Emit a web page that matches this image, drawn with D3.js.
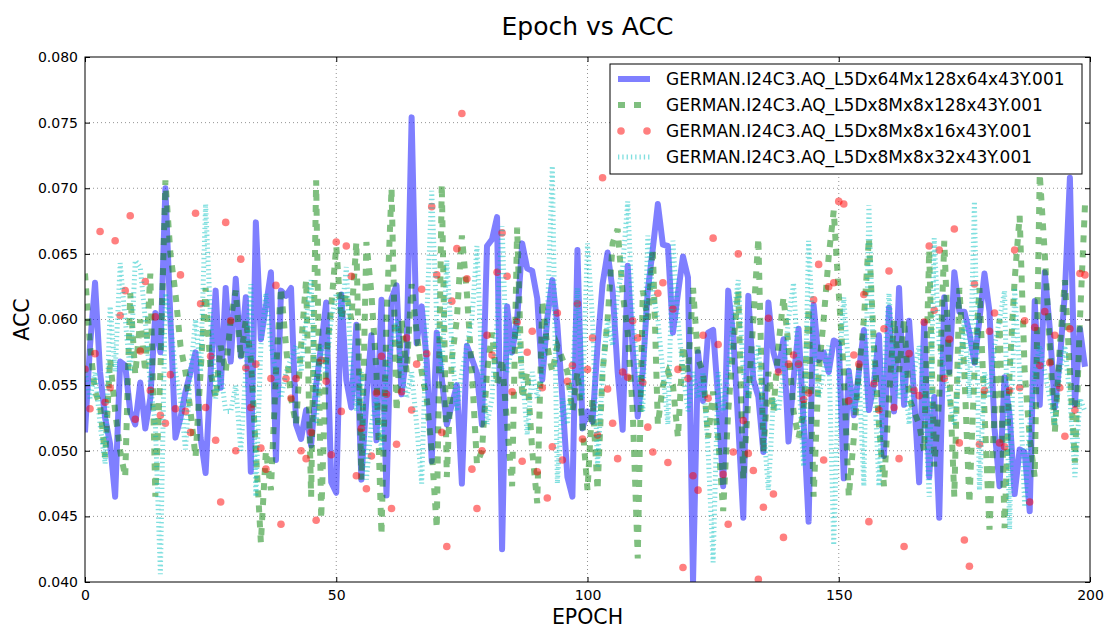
<!DOCTYPE html>
<html><head><meta charset="utf-8">
<script src="https://cdn.jsdelivr.net/npm/d3@7"></script>
<style>body{margin:0;background:#fff}svg{font-family:"DejaVu Sans",sans-serif}</style>
</head><body><svg id="c" width="1104" height="628"></svg>
<script>
const epochs = d3.range(200);
const seriesNames = [
  "GERMAN.I24C3.AQ_L5Dx64Mx128x64x43Y.001",
  "GERMAN.I24C3.AQ_L5Dx8Mx8x128x43Y.001",
  "GERMAN.I24C3.AQ_L5Dx8Mx8x16x43Y.001",
  "GERMAN.I24C3.AQ_L5Dx8Mx8x32x43Y.001"
];
const blueAcc = [
0.0514,0.0580,0.0628,0.0560,0.0525,0.0505,0.0465,0.0568,0.0565,0.0530,
0.0520,0.0552,0.0517,0.0540,0.0605,0.0575,0.0700,0.0600,0.0510,0.0525,
0.0545,0.0560,0.0575,0.0510,0.0483,0.0560,0.0622,0.0548,0.0624,0.0568,
0.0631,0.0572,0.0617,0.0484,0.0674,0.0585,0.0610,0.0636,0.0493,0.0622,
0.0618,0.0624,0.0520,0.0509,0.0531,0.0504,0.0550,0.0580,0.0613,0.0476,
0.0468,0.0619,0.0554,0.0533,0.0596,0.0478,0.0540,0.0588,0.0508,0.0615,
0.0466,0.0616,0.0626,0.0543,0.0575,0.0754,0.0582,0.0610,0.0569,0.0492,
0.0590,0.0555,0.0520,0.0535,0.0550,0.0475,0.0580,0.0570,0.0559,0.0520,
0.0656,0.0661,0.0678,0.0425,0.0610,0.0575,0.0600,0.0658,0.0639,0.0637,
0.0616,0.0554,0.0601,0.0630,0.0596,0.0540,0.0480,0.0465,0.0653,0.0517,
0.0530,0.0522,0.0580,0.0627,0.0651,0.0622,0.0560,0.0516,0.0641,0.0577,
0.0526,0.0561,0.0622,0.0654,0.0688,0.0657,0.0656,0.0590,0.0620,0.0648,
0.0632,0.0400,0.0575,0.0538,0.0590,0.0592,0.0540,0.0473,0.0622,0.0588,
0.0520,0.0449,0.0618,0.0554,0.0541,0.0499,0.0613,0.0575,0.0561,0.0585,
0.0507,0.0554,0.0593,0.0522,0.0446,0.0611,0.0569,0.0575,0.0560,0.0584,
0.0582,0.0479,0.0561,0.0527,0.0560,0.0592,0.0531,0.0551,0.0588,0.0496,
0.0609,0.0530,0.0624,0.0535,0.0599,0.0541,0.0476,0.0598,0.0480,0.0541,
0.0449,0.0617,0.0560,0.0636,0.0606,0.0606,0.0590,0.0567,0.0600,0.0635,
0.0606,0.0517,0.0473,0.0556,0.0527,0.0467,0.0501,0.0499,0.0454,0.0614,
0.0535,0.0636,0.0593,0.0533,0.0569,0.0620,0.0708,0.0535,0.0593,0.0564
];
const greenAcc = [
0.0635,0.0580,0.0545,0.0535,0.0495,0.0570,0.0530,0.0500,0.0480,0.0620,
0.0558,0.0600,0.0560,0.0635,0.0465,0.0560,0.0706,0.0650,0.0620,0.0580,
0.0560,0.0530,0.0495,0.0560,0.0624,0.0560,0.0540,0.0580,0.0560,0.0600,
0.0622,0.0570,0.0600,0.0570,0.0500,0.0430,0.0500,0.0470,0.0560,0.0624,
0.0580,0.0540,0.0520,0.0580,0.0630,0.0465,0.0706,0.0448,0.0570,0.0610,
0.0656,0.0600,0.0620,0.0600,0.0659,0.0478,0.0659,0.0620,0.0560,0.0436,
0.0600,0.0700,0.0530,0.0600,0.0560,0.0627,0.0590,0.0560,0.0540,0.0500,
0.0441,0.0703,0.0480,0.0570,0.0600,0.0664,0.0620,0.0560,0.0490,0.0500,
0.0560,0.0590,0.0550,0.0570,0.0520,0.0473,0.0670,0.0540,0.0560,0.0500,
0.0460,0.0614,0.0580,0.0560,0.0580,0.0570,0.0560,0.0530,0.0560,0.0520,
0.0470,0.0540,0.0470,0.0560,0.0600,0.0658,0.0669,0.0620,0.0590,0.0530,
0.0418,0.0622,0.0600,0.0654,0.0520,0.0550,0.0560,0.0550,0.0510,0.0580,
0.0560,0.0624,0.0570,0.0560,0.0510,0.0545,0.0510,0.0454,0.0530,0.0580,
0.0622,0.0478,0.0540,0.0600,0.0662,0.0499,0.0560,0.0530,0.0580,0.0617,
0.0580,0.0530,0.0510,0.0530,0.0609,0.0465,0.0560,0.0600,0.0648,0.0683,
0.0620,0.0560,0.0465,0.0510,0.0560,0.0600,0.0662,0.0580,0.0520,0.0473,
0.0540,0.0600,0.0560,0.0600,0.0540,0.0530,0.0520,0.0500,0.0653,0.0488,
0.0540,0.0660,0.0560,0.0465,0.0624,0.0560,0.0460,0.0560,0.0624,0.0530,
0.0440,0.0530,0.0600,0.0441,0.0560,0.0630,0.0679,0.0560,0.0510,0.0480,
0.0711,0.0650,0.0580,0.0514,0.0580,0.0630,0.0560,0.0491,0.0600,0.0687
];
const redAcc = [
0.0562,0.0532,0.0574,0.0667,0.0537,0.0548,0.0660,0.0603,0.0622,0.0679,
0.0524,0.0576,0.0629,0.0546,0.0602,0.0527,0.0521,0.0558,0.0532,0.0634,
0.0530,0.0514,0.0681,0.0612,0.0533,0.0572,0.0508,0.0461,0.0674,0.0599,
0.0500,0.0646,0.0563,0.0533,0.0566,0.0502,0.0486,0.0555,0.0626,0.0444,
0.0555,0.0540,0.0555,0.0500,0.0494,0.0514,0.0447,0.0569,0.0553,0.0497,
0.0659,0.0530,0.0656,0.0633,0.0481,0.0517,0.0471,0.0496,0.0544,0.0572,
0.0543,0.0456,0.0505,0.0545,0.0586,0.0531,0.0566,0.0623,0.0574,0.0686,
0.0634,0.0514,0.0427,0.0614,0.0654,0.0757,0.0631,0.0486,0.0456,0.0500,
0.0588,0.0573,0.0636,0.0666,0.0633,0.0545,0.0598,0.0492,0.0575,0.0591,
0.0484,0.0548,0.0464,0.0503,0.0605,0.0493,0.0553,0.0565,0.0612,0.0509,
0.0562,0.0586,0.0512,0.0708,0.0547,0.0521,0.0494,0.0560,0.0556,0.0599,
0.0586,0.0552,0.0518,0.0499,0.0620,0.0628,0.0491,0.0608,0.0562,0.0411,
0.0555,0.0481,0.0470,0.0588,0.0540,0.0662,0.0581,0.0482,0.0444,0.0499,
0.0650,0.0523,0.0498,0.0485,0.0402,0.0457,0.0601,0.0467,0.0560,0.0434,
0.0566,0.0573,0.0566,0.0539,0.0544,0.0615,0.0642,0.0493,0.0625,0.0628,
0.0690,0.0688,0.0538,0.0573,0.0566,0.0619,0.0446,0.0551,0.0531,0.0593,
0.0637,0.0533,0.0494,0.0427,0.0574,0.0546,0.0542,0.0598,0.0656,0.0607,
0.0653,0.0555,0.0585,0.0669,0.0506,0.0432,0.0412,0.0627,0.0505,0.0546,
0.0591,0.0605,0.0506,0.0503,0.0546,0.0653,0.0548,0.0599,0.0461,0.0594,
0.0565,0.0606,0.0567,0.0588,0.0548,0.0511,0.0593,0.0531,0.0635,0.0634
];
const cyanAcc = [
0.0560,0.0540,0.0560,0.0520,0.0490,0.0610,0.0560,0.0643,0.0600,0.0560,
0.0645,0.0640,0.0600,0.0550,0.0520,0.0406,0.0620,0.0600,0.0560,0.0540,
0.0501,0.0560,0.0600,0.0560,0.0688,0.0600,0.0540,0.0560,0.0530,0.0530,
0.0550,0.0500,0.0560,0.0627,0.0465,0.0580,0.0620,0.0580,0.0560,0.0540,
0.0560,0.0570,0.0580,0.0560,0.0600,0.0630,0.0520,0.0580,0.0560,0.0600,
0.0620,0.0600,0.0640,0.0560,0.0530,0.0560,0.0478,0.0520,0.0540,0.0500,
0.0560,0.0580,0.0600,0.0560,0.0540,0.0560,0.0520,0.0475,0.0600,0.0698,
0.0600,0.0560,0.0645,0.0580,0.0530,0.0560,0.0580,0.0600,0.0656,0.0560,
0.0520,0.0540,0.0600,0.0671,0.0560,0.0580,0.0600,0.0560,0.0512,0.0560,
0.0540,0.0560,0.0600,0.0717,0.0475,0.0540,0.0520,0.0560,0.0624,0.0540,
0.0658,0.0600,0.0488,0.0560,0.0600,0.0580,0.0620,0.0640,0.0690,0.0600,
0.0560,0.0530,0.0664,0.0620,0.0600,0.0560,0.0520,0.0660,0.0600,0.0560,
0.0530,0.0560,0.0540,0.0560,0.0500,0.0415,0.0560,0.0530,0.0560,0.0600,
0.0630,0.0560,0.0540,0.0560,0.0580,0.0520,0.0470,0.0540,0.0530,0.0560,
0.0600,0.0628,0.0560,0.0488,0.0660,0.0580,0.0540,0.0560,0.0580,0.0428,
0.0560,0.0617,0.0560,0.0530,0.0560,0.0473,0.0687,0.0560,0.0473,0.0560,
0.0620,0.0560,0.0540,0.0560,0.0520,0.0560,0.0580,0.0540,0.0465,0.0662,
0.0580,0.0560,0.0540,0.0520,0.0560,0.0600,0.0540,0.0690,0.0470,0.0560,
0.0540,0.0580,0.0600,0.0622,0.0440,0.0624,0.0560,0.0457,0.0520,0.0560,
0.0580,0.0560,0.0540,0.0520,0.0560,0.0580,0.0540,0.0480,0.0540,0.0530
];
const xTicks = [0, 50, 100, 150, 200];
const yTicks = [0.040, 0.045, 0.050, 0.055, 0.060, 0.065, 0.070, 0.075, 0.080];
const titleText = "Epoch vs ACC", xLabel = "EPOCH", yLabel = "ACC";

const svg = d3.select("#c");
const L = 85, R = 1090, T = 57, B = 582;
const x = d3.scaleLinear().domain([0, 200]).range([L, R]);
const y = d3.scaleLinear().domain([0.040, 0.080]).range([B, T]);

svg.append("defs").append("clipPath").attr("id", "clip")
  .append("rect").attr("x", L).attr("y", T).attr("width", R - L).attr("height", B - T);

// grid
const grid = svg.append("g").attr("stroke", "#000").attr("stroke-width", 0.6)
  .attr("stroke-dasharray", "1,3").attr("opacity", 0.7);
xTicks.slice(1, -1).forEach(t => grid.append("line").attr("x1", x(t)).attr("x2", x(t)).attr("y1", T).attr("y2", B));
yTicks.slice(1, -1).forEach(t => grid.append("line").attr("y1", y(t)).attr("y2", y(t)).attr("x1", L).attr("x2", R));

const plot = svg.append("g").attr("clip-path", "url(#clip)");
const line = data => d3.line().x((d, i) => x(epochs[i])).y(d => y(d))(data);

plot.append("path").attr("d", line(blueAcc)).attr("fill", "none")
  .attr("stroke", "#0000ff").attr("stroke-opacity", 0.5).attr("stroke-width", 6).attr("stroke-linejoin", "round");
plot.append("path").attr("d", line(greenAcc)).attr("fill", "none")
  .attr("stroke", "#008000").attr("stroke-opacity", 0.5).attr("stroke-width", 6).attr("stroke-dasharray", "7,8");
plot.append("g").selectAll("circle").data(redAcc).join("circle")
  .attr("cx", (d, i) => x(epochs[i])).attr("cy", d => y(d)).attr("r", 3.8)
  .attr("fill", "#ff0000").attr("fill-opacity", 0.5);
plot.append("path").attr("d", line(cyanAcc)).attr("fill", "none")
  .attr("stroke", "#00bfbf").attr("stroke-opacity", 0.5).attr("stroke-width", 5).attr("stroke-dasharray", "1.3,3");

// frame
svg.append("rect").attr("x", L).attr("y", T).attr("width", R - L).attr("height", B - T)
  .attr("fill", "none").attr("stroke", "#000").attr("stroke-width", 1);

// axes
const fmt = d3.format(".3f");
const ax = svg.append("g").attr("transform", `translate(0,${B})`)
  .call(d3.axisBottom(x).tickValues(xTicks).tickSizeInner(-5).tickSizeOuter(0).tickPadding(8).tickFormat(d3.format("d")));
const ay = svg.append("g").attr("transform", `translate(${L},0)`)
  .call(d3.axisLeft(y).tickValues(yTicks).tickSizeInner(-5).tickSizeOuter(0).tickPadding(7).tickFormat(fmt));
const axt = svg.append("g").attr("transform", `translate(0,${T})`)
  .call(d3.axisTop(x).tickValues(xTicks).tickSizeInner(-5).tickSizeOuter(0).tickFormat(""));
const ayr = svg.append("g").attr("transform", `translate(${R},0)`)
  .call(d3.axisRight(y).tickValues(yTicks).tickSizeInner(-5).tickSizeOuter(0).tickFormat(""));
[ax, ay, axt, ayr].forEach(g => {
  g.select(".domain").remove();
  g.selectAll("text").attr("font-family", "DejaVu Sans").attr("font-size", 14).attr("fill", "#000");
  g.selectAll("line").attr("stroke", "#000");
});

svg.append("text").attr("x", (L + R) / 2).attr("y", 35).attr("text-anchor", "middle")
  .attr("font-size", 25).text(titleText);
svg.append("text").attr("x", (L + R) / 2).attr("y", 624).attr("text-anchor", "middle")
  .attr("font-size", 20.5).text(xLabel);
svg.append("text").attr("transform", `translate(29,${(T + B) / 2}) rotate(-90)`).attr("text-anchor", "middle")
  .attr("font-size", 20.5).text(yLabel);

// legend
const lg = svg.append("g");
lg.append("rect").attr("x", 610).attr("y", 64).attr("width", 472).attr("height", 110)
  .attr("fill", "#fff").attr("stroke", "#000").attr("stroke-width", 1);
const rowY = [79, 105, 131, 157];
seriesNames.forEach((name, i) => {
  const yy = rowY[i];
  if (i === 0) lg.append("line").attr("x1", 618).attr("x2", 650).attr("y1", yy).attr("y2", yy)
    .attr("stroke", "#0000ff").attr("stroke-opacity", 0.5).attr("stroke-width", 6);
  if (i === 1) lg.append("line").attr("x1", 618).attr("x2", 650).attr("y1", yy).attr("y2", yy)
    .attr("stroke", "#008000").attr("stroke-opacity", 0.5).attr("stroke-width", 6).attr("stroke-dasharray", "7,9");
  if (i === 2) [621, 647].forEach(cx => lg.append("circle").attr("cx", cx).attr("cy", yy).attr("r", 3.8)
    .attr("fill", "#ff0000").attr("fill-opacity", 0.5));
  if (i === 3) lg.append("line").attr("x1", 618).attr("x2", 650).attr("y1", yy).attr("y2", yy)
    .attr("stroke", "#00bfbf").attr("stroke-opacity", 0.5).attr("stroke-width", 5).attr("stroke-dasharray", "1.3,3");
  lg.append("text").attr("x", 666).attr("y", yy + 6).attr("font-size", 17).text(name);
});
</script></body></html>
